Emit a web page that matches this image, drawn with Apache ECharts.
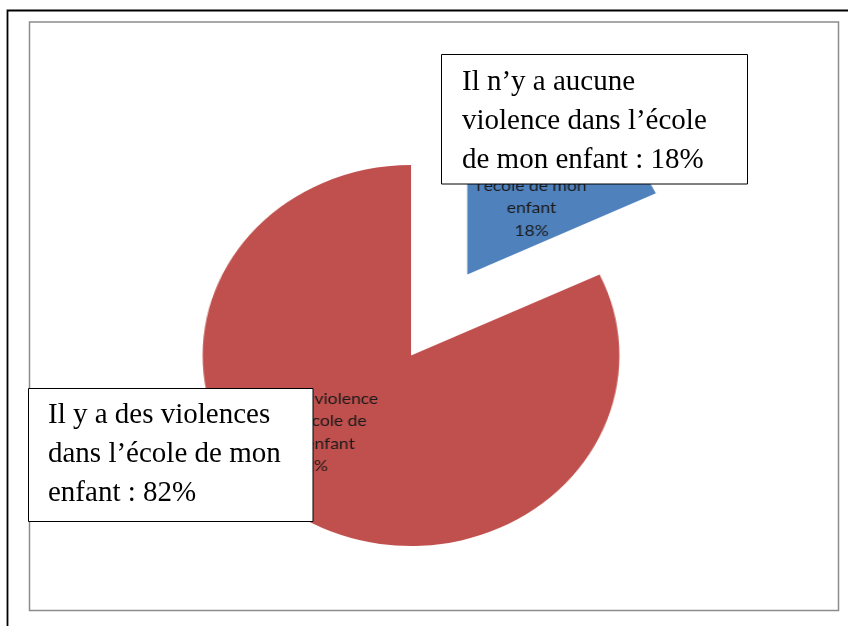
<!DOCTYPE html>
<html>
<head>
<meta charset="utf-8">
<script src="https://cdn.jsdelivr.net/npm/echarts@6/dist/echarts.min.js"></script>
<style>
html,body{margin:0;padding:0;background:#fff;width:848px;height:626px;overflow:hidden;}
#pie{position:absolute;left:0;top:0;width:848px;height:626px;transform:scaleX(1.094);transform-origin:411px 355px;}
#over{position:absolute;left:0;top:0;width:848px;height:626px;pointer-events:none;}
</style>
</head>
<body>
<div id="pie"></div>
<div id="over"></div>
<script>
// ---- data ----
const categories = [
  "Il n’y a aucune violence dans l’école de mon enfant",
  "Il y a des violences dans l’école de mon enfant"
];
const values = [18, 82];
const innerLabels = [
  "Il n’y a aucune\nviolence dans\nl’école de mon\nenfant",
  "Il y a des violence\ndans l’école de\nmon enfant"
];
const calloutTexts = [
  "Il n’y a aucune\nviolence dans l’école\nde mon enfant : 18%",
  "Il y a des violences\ndans l’école de mon\nenfant : 82%"
];

// ---- styles ----
const colors = ['#4F81BD', '#C0504D'];
const labelShift = [[6, -6], [-39, -6]];

const pie = echarts.init(document.getElementById('pie'), null, {renderer: 'canvas'});
pie.setOption({
  animation: false,
  backgroundColor: 'transparent',
  series: [{
    type: 'pie',
    center: [411, 355.5],
    radius: 190.5,
    startAngle: 90,
    clockwise: true,
    silent: true,
    selectedMode: 'single',
    selectedOffset: 96,
    avoidLabelOverlap: false,
    emphasis: {disabled: true},
    label: {
      show: true,
      position: 'inside',
      fontFamily: 'Lato',
      fontSize: 16,
      lineHeight: 22.5,
      color: '#1a1a1a',
      align: 'center',
      formatter: p => innerLabels[p.dataIndex] + '\n' + Math.round(p.percent) + '%'
    },
    labelLine: {show: false},
    labelLayout: params => ({dx: labelShift[params.dataIndex][0], dy: labelShift[params.dataIndex][1]}),
    data: categories.map((c, i) => ({
      name: c,
      value: values[i],
      selected: i === 0,
      itemStyle: {color: colors[i]},
      select: {itemStyle: {color: colors[i]}}
    }))
  }]
});

const over = echarts.init(document.getElementById('over'), null, {renderer: 'canvas'});
const boxes = [
  {x: 441.5, y: 54.5, w: 306, h: 129.5, tx: 462, ty: 62.5},
  {x: 28.5, y: 388.5, w: 284.5, h: 133, tx: 48, ty: 395.5}
];
const graphics = [
  {type: 'rect', shape: {x: 29.5, y: 22, width: 809, height: 588.5},
   style: {fill: null, stroke: '#8c8c8c', lineWidth: 1.5}},
  {type: 'rect', shape: {x: 7.5, y: 10.5, width: 860, height: 640},
   style: {fill: null, stroke: '#000', lineWidth: 1.8}}
];
boxes.forEach((b, i) => {
  graphics.push({type: 'rect', shape: {x: b.x, y: b.y, width: b.w, height: b.h},
    style: {fill: '#fff', stroke: '#000', lineWidth: 1}});
  graphics.push({type: 'text', x: b.tx, y: b.ty,
    style: {text: calloutTexts[i], fontFamily: 'Liberation Serif', fontSize: 29,
      lineHeight: 39, fill: '#000', align: 'left', verticalAlign: 'top'}});
});
over.setOption({animation: false, backgroundColor: 'transparent', graphic: graphics});
</script>
</body>
</html>
